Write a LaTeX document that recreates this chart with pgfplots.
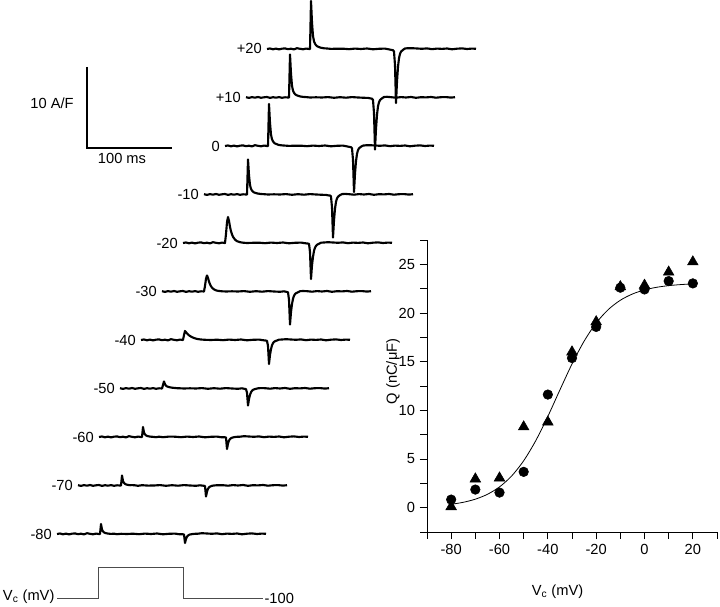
\documentclass[border=0pt]{standalone}
\usepackage{fontspec}
\setmainfont{Liberation Sans}
\usepackage{pgfplots}
\usepackage{pgfplotstable}
\pgfplotsset{compat=1.18}
\tikzset{trace/.style={black, line width=1.6pt, line join=round}}

\pgfplotstableread{
rx p20 p10 z0 m10 m20 m30 m40 m50 m60 m70 m80
0 0 0.3 0 0.3 0 0.3 0 0.3 0 0.3 0
3 0.5 -0.4 0.5 -0.4 0.5 -0.4 0.5 -0.4 0.5 -0.4 0.5
6 -0.3 0.4 -0.3 0.4 -0.3 0.4 -0.3 0.4 -0.3 0.4 -0.3
9 0.4 -0.2 0.4 -0.2 0.4 -0.2 0.4 -0.2 0.4 -0.2 0.4
12 -0.4 0.5 -0.4 0.5 -0.4 0.5 -0.4 0.5 -0.4 0.5 -0.4
15 0.3 -0.3 0.3 -0.3 0.3 -0.3 0.3 -0.3 0.3 -0.3 0.3
18 0.6 0.2 0.6 0.2 0.6 0.2 0.6 0.2 0.6 0.2 0.6
21 -0.2 0.5 -0.2 0.5 -0.2 0.5 -0.2 0.5 -0.2 0.5 -0.2
24 0.3 -0.4 0.3 -0.4 0.3 -0.4 0.3 -0.4 0.3 -0.4 0.3
27 -0.4 0.3 -0.4 0.3 -0.4 0.3 -0.4 0.3 -0.4 0.3 -0.4
30 0.8 -0.2 0.8 -0.2 0.8 -0.2 0.8 -0.2 0.8 -0.2 0.8
33 0.2 0.4 0.2 0.4 0.2 0.4 0.2 0.4 0.2 0.4 0.2
36 -0.3 -0.3 -0.3 -0.3 -0.3 -0.3 -0.3 -0.3 -0.3 -0.3 -0.3
39 0.4 0.2 0.4 0.2 0.4 0.2 0.4 0.2 0.4 0.2 0.4
42 0 0 0 0 0 0 0 0 0 0 0
43 0 0 0 0 9.1 5.6 5 3.5 0 0 0
44 48 43 42 35 20.8 12.8 9 7 10 10 10
45 26.4 23.7 23.1 19.3 26 16 7.8 4.2 4.5 4.5 4.5
46 13 11.6 11.3 9.5 22.1 13.6 6.6 2.8 2.5 2.5 2.5
47 7.7 6.9 6.7 5.6 16.1 9.9 5.6 2.1 1.6 1.6 1.6
48 5.3 4.7 4.6 3.9 11.7 7.2 4.7 1.7 1.1 1.1 1.1
49 3.8 3.4 3.4 2.8 8.6 5.3 4 1.4 0.8 0.8 0.8
50 2.9 2.6 2.5 2.1 6.2 3.8 3.4 1.2 0.6 0.6 0.6
52 1.9 1.7 1.7 1.4 3.4 2.1 2.4 0.8 0.3 0.3 0.3
54 1.2 1.1 1.0 0.9 1.8 1.1 1.6 0.6 0.15 0.4 0.1
57 0.7 0.6 0.6 0.5 0.8 0.5 0.9 0.3 -0.2 0.2 0.3
60 0.5 0.4 0.4 0.3 0.3 0.2 0.5 0.2 0.3 -0.3 -0.2
64 0.1 0 0.1 0 0 0 0.2 0 -0.2 0.3 0.2
70 0.3 0.2 0.3 0.2 0.2 0.2 0 0.2 0.4 -0.1 0
76 0.3 0 0.3 0 0.3 0 0.3 0 0.3 0 0.3
82 -0.2 0.4 -0.2 0.4 -0.2 0.4 -0.2 0.4 -0.2 0.4 -0.2
88 0.4 -0.3 0.4 -0.3 0.4 -0.3 0.4 -0.3 0.4 -0.3 0.4
94 0 0.3 0 0.3 0 0.3 0 0.3 0 0.3 0
100 0.5 -0.2 0.5 -0.2 0.5 -0.2 0.5 -0.2 0.5 -0.2 0.5
106 -0.3 0.4 -0.3 0.4 -0.3 0.4 -0.3 0.4 -0.3 0.4 -0.3
112 0.2 0 0.2 0 0.2 0 0.2 0 0.2 0 0.2
118 0.4 -0.3 0.4 -0.3 0.4 -0.3 0.4 -0.3 0.4 -0.3 0.4
122 -0.4 -0.4 -0.4 -0.4 -0.2 0.2 -0.2 0.2 -0.2 0.2 -0.2
125 -1.0 -1.0 -1.0 -1.0 -0.6 -0.5 -0.6 -0.5 -0.3 -0.2 -0.3
126 -1.2 -1.2 -1.2 -1 -0.8 -0.8 -0.8 -0.6 -0.3 -0.3 -0.3
127 -2.5 -2.5 -2.3 -2 -9 -8.3 -6 -4.3 -0.5 -0.5 -0.5
128 -16.2 -15.6 -13.8 -12.9 -36 -33 -24 -17 -12 -11 -9
129 -54 -52 -46 -43 -22.3 -20.5 -14.9 -10.5 -6.6 -6.1 -5
130 -32.4 -31.2 -27.6 -25.8 -13.7 -12.5 -9.1 -6.5 -3.6 -3.3 -2.7
131 -17.8 -17.2 -15.2 -14.2 -7.9 -7.3 -5.3 -3.7 -2 -1.9 -1.5
132 -9.2 -8.8 -7.8 -7.3 -4.7 -4.3 -3.1 -2.2 -1.2 -1.1 -0.9
133 -4.9 -4.7 -4.1 -3.9 -2.9 -2.6 -1.9 -1.4 -0.7 -0.7 -0.5
134 -2.7 -2.6 -2.3 -2.2 -1.8 -1.7 -1.2 -0.9 -0.4 -0.3 -0.3
136 -0.8 -0.8 -0.7 -0.6 -0.7 -0.7 -0.5 -0.3 0 0 0
138 0.5 0.5 0.4 0.4 0.3 0.3 0.3 0.2 0.2 0.2 0.2
141 0.8 0.7 0.7 0.6 0.5 0.5 0.5 0.4 0.3 0.3 0.3
145 0.8 0.3 0.8 0.3 0.8 0.3 0.8 0.3 0.8 0.3 0.8
150 0.5 -0.2 0.5 -0.2 0.5 -0.2 0.5 -0.2 0.5 -0.2 0.5
155 0.2 0.4 0.2 0.4 0.2 0.4 0.2 0.4 0.2 0.4 0.2
160 0.6 0 0.6 0 0.6 0 0.6 0 0.6 0 0.6
165 -0.2 0.5 -0.2 0.5 -0.2 0.5 -0.2 0.5 -0.2 0.5 -0.2
170 0.4 -0.3 0.4 -0.3 0.4 -0.3 0.4 -0.3 0.4 -0.3 0.4
175 0.1 0.3 0.1 0.3 0.1 0.3 0.1 0.3 0.1 0.3 0.1
180 0.5 0.1 0.5 0.1 0.5 0.1 0.5 0.1 0.5 0.1 0.5
185 -0.3 0.5 -0.3 0.5 -0.3 0.5 -0.3 0.5 -0.3 0.5 -0.3
190 0.3 -0.2 0.3 -0.2 0.3 -0.2 0.3 -0.2 0.3 -0.2 0.3
195 0.6 0.3 0.6 0.3 0.6 0.3 0.6 0.3 0.6 0.3 0.6
200 0 0.4 0 0.4 0 0.4 0 0.4 0 0.4 0
205 0.4 -0.1 0.4 -0.1 0.4 -0.1 0.4 -0.1 0.4 -0.1 0.4
209 0.2 0.3 0.2 0.3 0.2 0.3 0.2 0.3 0.2 0.3 0.2
}\traces

\begin{document}
\begin{tikzpicture}[font=\fontsize{11}{13}\selectfont]
\useasboundingbox (0,0) rectangle (540pt,454.5pt);
\begin{axis}[at={(0,0)}, anchor=south west, width=540pt, height=454.5pt,
  scale only axis, hide axis, clip=false,
  xmin=0, xmax=720, ymin=-606, ymax=0,
  font=\fontsize{11}{13}\selectfont]
\addplot[trace] table[x expr=\thisrow{rx}+267, y expr=\thisrow{p20}-49]{\traces};
\addplot[trace] table[x expr=\thisrow{rx}+246, y expr=\thisrow{p10}-97.5]{\traces};
\addplot[trace] table[x expr=\thisrow{rx}+225, y expr=\thisrow{z0}-146]{\traces};
\addplot[trace] table[x expr=\thisrow{rx}+204, y expr=\thisrow{m10}-194.5]{\traces};
\addplot[trace] table[x expr=\thisrow{rx}+183, y expr=\thisrow{m20}-243]{\traces};
\addplot[trace] table[x expr=\thisrow{rx}+162, y expr=\thisrow{m30}-291.5]{\traces};
\addplot[trace] table[x expr=\thisrow{rx}+141, y expr=\thisrow{m40}-340]{\traces};
\addplot[trace] table[x expr=\thisrow{rx}+120, y expr=\thisrow{m50}-388.5]{\traces};
\addplot[trace] table[x expr=\thisrow{rx}+99, y expr=\thisrow{m60}-437]{\traces};
\addplot[trace] table[x expr=\thisrow{rx}+78, y expr=\thisrow{m70}-485.5]{\traces};
\addplot[trace] table[x expr=\thisrow{rx}+57, y expr=\thisrow{m80}-534]{\traces};
\node[anchor=east, inner sep=0pt] at (axis cs:262,-48) {+20};
\node[anchor=east, inner sep=0pt] at (axis cs:241,-97) {+10};
\node[anchor=east, inner sep=0pt] at (axis cs:220,-146) {0};
\node[anchor=east, inner sep=0pt] at (axis cs:199,-194.5) {-10};
\node[anchor=east, inner sep=0pt] at (axis cs:178,-243) {-20};
\node[anchor=east, inner sep=0pt] at (axis cs:157,-291.5) {-30};
\node[anchor=east, inner sep=0pt] at (axis cs:136,-340) {-40};
\node[anchor=east, inner sep=0pt] at (axis cs:115,-388.5) {-50};
\node[anchor=east, inner sep=0pt] at (axis cs:94,-437) {-60};
\node[anchor=east, inner sep=0pt] at (axis cs:73,-485.5) {-70};
\node[anchor=east, inner sep=0pt] at (axis cs:52,-534) {-80};
% scale bar
\addplot[black, line width=1.4pt] coordinates {(87,-67) (87,-148) (172,-148)};
\node at (axis cs:52,-103) {10 A/F};
\node at (axis cs:122,-158) {100 ms};
% voltage protocol
\addplot[black!70, line width=0.7pt] coordinates {(57,-598) (98,-598) (98,-567) (183,-567) (183,-598) (263,-598)};
\node[anchor=east, inner sep=1pt] at (axis cs:56,-597) {V\textsubscript{c} (mV)};
\node[anchor=west, inner sep=1pt] at (axis cs:263,-598) {-100};
\end{axis}

\begin{axis}[at={(320.25pt,55.5pt)}, anchor=south west,
  width=217.5pt, height=219pt, scale only axis,
  font=\fontsize{11}{13}\selectfont,
  /pgf/number format/assume math mode=true,
  xmin=-90, xmax=30, ymin=-2.5, ymax=27.5,
  axis x line=bottom, axis y line=left,
  axis line style={-, line width=0.7pt},
  xtick={-80,-60,...,20}, minor xtick={-90,-70,...,30},
  ytick={0,5,...,25}, minor ytick={-2.5,2.5,...,27.5},
  tick align=outside,
  major tick length=5.5pt, minor tick length=5pt,
  tick style={black, line width=0.6pt},
  every axis x label/.style={at={(axis description cs:0.45,-0.205)}, anchor=center},
  every axis y label/.style={at={(axis description cs:-0.117,0.55)}, rotate=90, anchor=center},
  xlabel={V\textsubscript{c} (mV)},
  ylabel={Q (nC/μF)},
]
\addplot[black, line width=0.6pt, smooth] coordinates {
(-80,0.345) (-75,0.550) (-70,0.872) (-65,1.373) (-60,2.133) (-55,3.249)
(-50,4.819) (-45,6.883) (-40,9.375) (-35,12.10) (-30,14.76) (-25,17.10)
(-20,18.97) (-15,20.35) (-10,21.31) (-5,21.95) (0,22.37) (5,22.64)
(10,22.81) (15,22.92) (20,22.99)};
\addplot[only marks, mark=triangle*, mark size=4.6pt, black] coordinates {
(-80,0.1) (-70,2.95) (-60,3.05) (-50,8.3) (-40,8.8) (-30,16.0)
(-20,19.1) (-10,22.7) (0,22.85) (10,24.2) (20,25.25)};
\addplot[only marks, mark=*, mark size=3.6pt, black] coordinates {
(-80,0.83) (-70,1.86) (-60,1.55) (-50,3.68) (-40,11.62) (-30,15.37)
(-20,18.57) (-10,22.6) (0,22.42) (10,23.28) (20,23.04)};
\end{axis}
\end{tikzpicture}
\end{document}
